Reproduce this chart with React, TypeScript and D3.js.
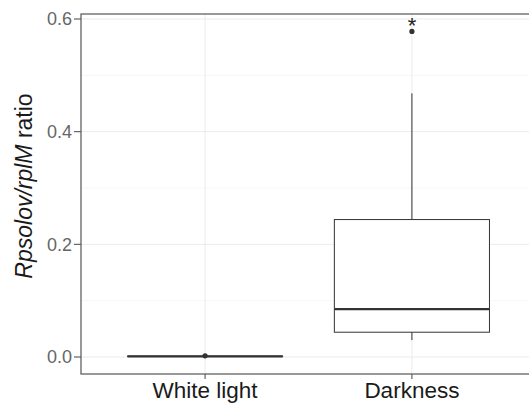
import React from 'react'
import * as d3 from 'd3'

const categories = ['White light', 'Darkness']
const lowerWhisker = [0.001, 0.03]
const q1 = [0.001, 0.044]
const medians = [0.001, 0.085]
const q3 = [0.0015, 0.244]
const upperWhisker = [0.002, 0.468]
const outliers = [[0.002], [0.578]]
const signif = ['', '*']
const yTicks = [0, 0.2, 0.4, 0.6]
const yMinor = [0.1, 0.3, 0.5]

export default function App() {
    const width = 529
    const height = 404
    const left = 81
    const top = 14
    const bottom = 374
    const right = 536

    const x = d3.scalePoint().domain(categories).range([left, right]).padding(0.6)
    const step = x.step()
    const boxW = step * 0.75
    const y = d3.scaleLinear().domain([0, 0.6]).range([357, 19])

    return (
        <svg width={width} height={height} style={{ position: 'absolute', left: 0, top: 0 }}
            fontFamily="'Liberation Sans', Arial, sans-serif">
            <rect x={0} y={0} width={width} height={height} fill="#fff" />
            {yMinor.map(t => (
                <line key={'mn' + t} x1={left} x2={right} y1={y(t)} y2={y(t)} stroke="#f2f2f2" strokeWidth={0.6} />
            ))}
            {yTicks.map(t => (
                <line key={'mj' + t} x1={left} x2={right} y1={y(t)} y2={y(t)} stroke="#ebebeb" strokeWidth={1} />
            ))}
            {categories.map(c => (
                <line key={'vg' + c} x1={x(c)} x2={x(c)} y1={top} y2={bottom} stroke="#ebebeb" strokeWidth={1} />
            ))}

            {categories.map((c, i) => {
                const cx = x(c)!
                return (
                    <g key={c}>
                        <line x1={cx} x2={cx} y1={y(q3[i])} y2={y(upperWhisker[i])} stroke="#333" strokeWidth={1} />
                        <line x1={cx} x2={cx} y1={y(q1[i])} y2={y(lowerWhisker[i])} stroke="#333" strokeWidth={1} />
                        <rect x={cx - boxW / 2} y={y(q3[i])} width={boxW} height={Math.max(0, y(q1[i]) - y(q3[i]))}
                            fill="#fff" stroke="#333" strokeWidth={1} />
                        <line x1={cx - boxW / 2} x2={cx + boxW / 2} y1={y(medians[i])} y2={y(medians[i])}
                            stroke="#333" strokeWidth={2.2} />
                        {outliers[i].map((o, j) => (
                            <circle key={j} cx={cx} cy={y(o)} r={2.6} fill="#333" />
                        ))}
                        {signif[i] && (
                            <text x={cx} y={y(d3.max(outliers[i])!) + 2} textAnchor="middle" fontSize={22} fill="#222">{signif[i]}</text>
                        )}
                    </g>
                )
            })}

            <rect x={left} y={top} width={right - left} height={bottom - top} fill="none" stroke="#555" strokeWidth={1.2} />

            {yTicks.map(t => (
                <g key={'yt' + t}>
                    <line x1={left - 7} x2={left} y1={y(t)} y2={y(t)} stroke="#555" strokeWidth={1.1} />
                    <text x={left - 9} y={y(t)} dy="0.35em" textAnchor="end" fontSize={18} fill="#666">{d3.format('.1f')(t)}</text>
                </g>
            ))}
            {categories.map(c => (
                <g key={'xt' + c}>
                    <line x1={x(c)} x2={x(c)} y1={bottom} y2={bottom + 5} stroke="#555" strokeWidth={1.1} />
                    <text x={x(c)} y={398} textAnchor="middle" fontSize={22.5} fill="#1a1a1a">{c}</text>
                </g>
            ))}

            <text transform={`translate(32, ${(top + bottom) / 2 - 8}) rotate(-90)`} textAnchor="middle" fontSize={23} fill="#1a1a1a">
                <tspan fontStyle="italic">Rpsolov/rplM</tspan>
                <tspan> ratio</tspan>
            </text>
        </svg>
    )
}
